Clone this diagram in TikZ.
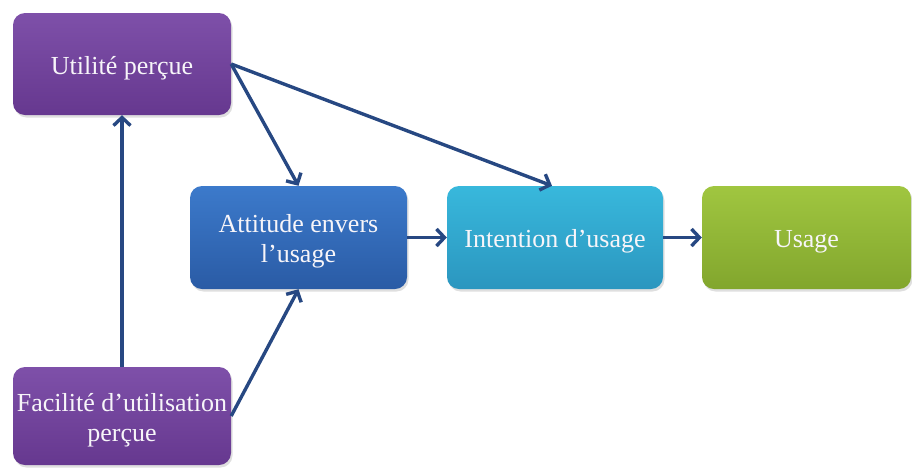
\documentclass[tikz,border=0pt]{standalone}
\usepackage{fontspec}
\setmainfont{Liberation Serif}
\usetikzlibrary{arrows.meta,shadows}
\definecolor{arr}{HTML}{274882}
\definecolor{txt}{HTML}{F7F5F9}
\definecolor{purpleT}{HTML}{7E50A9}
\definecolor{purpleB}{HTML}{66388F}
\definecolor{blueT}{HTML}{3C7ACB}
\definecolor{blueB}{HTML}{2A5BA5}
\definecolor{cyanT}{HTML}{38B8DC}
\definecolor{cyanB}{HTML}{2B96BF}
\definecolor{greenT}{HTML}{A0C640}
\definecolor{greenB}{HTML}{82A62D}
\tikzset{
  boxbase/.style={rounded corners=12pt, inner sep=0pt, align=center, text=txt,
    font=\fontsize{26}{30}\selectfont, text depth=0pt,
    drop shadow={opacity=0.25, shadow xshift=1.5pt, shadow yshift=-2.5pt}},
  oneline/.style={text height=20pt},
  twoline/.style={text height=50pt},
  purplebox/.style={boxbase, top color=purpleT, bottom color=purpleB},
  bluebox/.style={boxbase, top color=blueT, bottom color=blueB},
  cyanbox/.style={boxbase, top color=cyanT, bottom color=cyanB},
  greenbox/.style={boxbase, top color=greenT, bottom color=greenB},
  link/.style={draw=arr, line width=3.4pt, -{Straight Barb[length=8pt,width=17pt]}}
}
\begin{document}
\begin{tikzpicture}[x=1pt,y=-1pt]
\useasboundingbox (0,0) rectangle (912,467);
\node[purplebox, oneline, minimum width=218pt, minimum height=102pt] (ut) at (122,64) {Utilité perçue};
\node[purplebox, twoline, minimum width=218pt, minimum height=98pt] (fac) at (122,416) {Facilité d’utilisation\\perçue};
\node[bluebox, twoline, minimum width=217pt, minimum height=103pt] (att) at (298.5,237.5) {Attitude envers\\l’usage};
\node[cyanbox, oneline, minimum width=216pt, minimum height=103pt] (int) at (555,237.5) {Intention d’usage};
\node[greenbox, oneline, minimum width=209pt, minimum height=103pt] (use) at (806.5,237.5) {Usage};
\draw[link] (fac.north) -- (ut.south);
\draw[link] (fac.east) -- (att.south);
\draw[link] (ut.east) -- (att.north);
\draw[link] (ut.east) -- ([xshift=-3pt]int.north);
\draw[link] (att.east) -- (int.west);
\draw[link] (int.east) -- (use.west);
\end{tikzpicture}
\end{document}
